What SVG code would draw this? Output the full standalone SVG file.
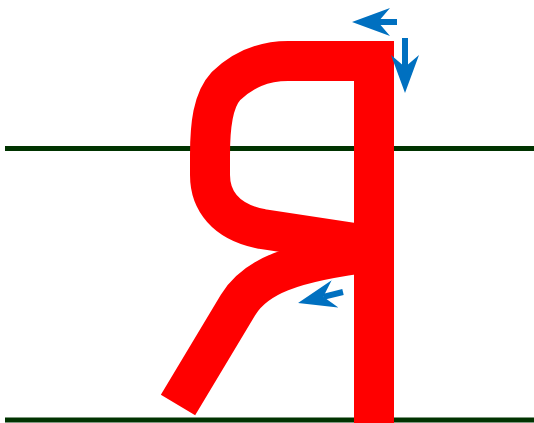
<svg xmlns="http://www.w3.org/2000/svg" width="534" height="423" viewBox="0 0 534 423">
  <style>
    .guide { stroke: #003300; stroke-width: 5; fill: none; }
    .stroke { stroke: #ff0000; stroke-width: 40; fill: none; stroke-linecap: butt; stroke-linejoin: round; }
    .arrow { stroke: #0070c0; stroke-width: 6; fill: none; }
  </style>
  <defs>
    <marker id="head" viewBox="-38 -14 38 28" markerWidth="38" markerHeight="28" refX="-26" refY="0" orient="auto" markerUnits="userSpaceOnUse">
      <path d="M0,0 L-38,-14 L-26,0 L-38,14 Z" fill="#0070c0"/>
    </marker>
  </defs>
  <g id="guides">
    <line class="guide" x1="5" y1="148.5" x2="534" y2="148.5"/>
    <line class="guide" x1="5" y1="420" x2="534" y2="420"/>
  </g>
  <g id="letter">
    <path id="bowl" class="stroke" d="M374,61 L288,61 C262,61 243,70 226,86 C213,100 210,125 210,155 L210,175 C210,200 225,222 262,229 L374,246"/>
    <path id="leg" class="stroke" d="M178,405 L238,305 C255,277 290,262 374,252"/>
    <rect id="stem" x="354" y="41" width="40" height="382" fill="#ff0000"/>
  </g>
  <g id="connectors">
    <path class="arrow" d="M397,22 L378,22" marker-end="url(#head)"/>
    <path class="arrow" d="M405,38 L405,67" marker-end="url(#head)"/>
    <path class="arrow" d="M343,292 L323.3,296.8" marker-end="url(#head)"/>
  </g>
</svg>
